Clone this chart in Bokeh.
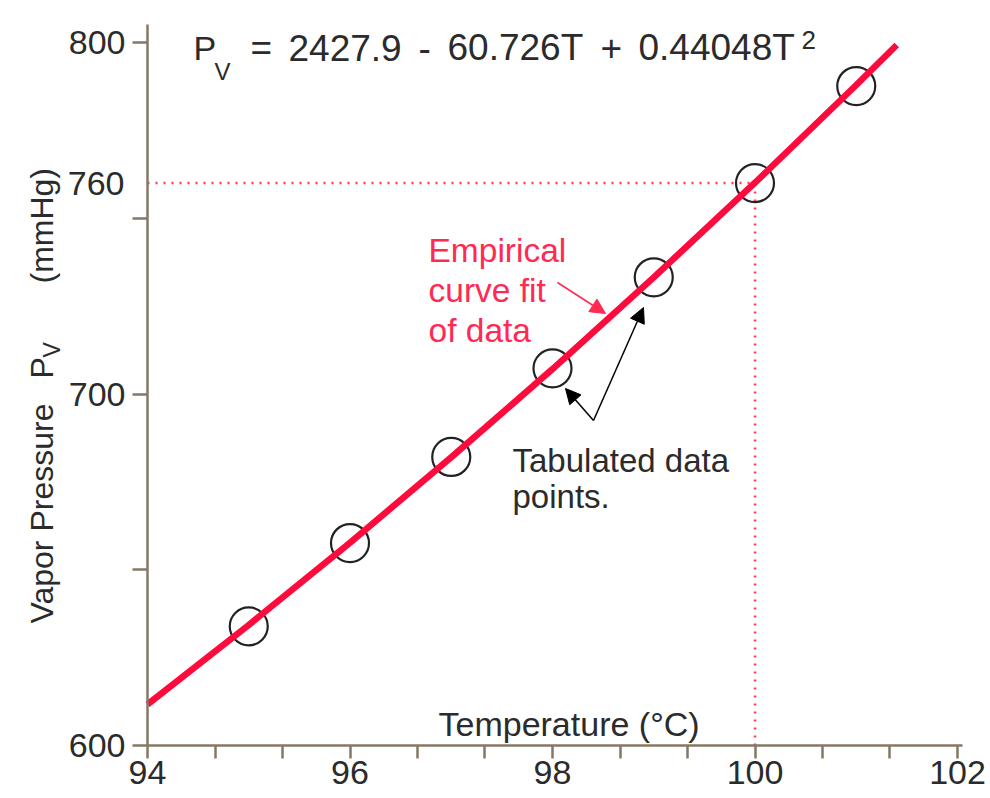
import math
from bokeh.plotting import figure
from bokeh.models import Label, Arrow, NormalHead, FixedTicker, Range1d
from bokeh.embed import file_html
from bokeh.resources import INLINE

# ---------------- data ----------------
temp_c = [95, 96, 97, 98, 99, 100, 101]
pressure_mmhg = [633.9, 657.6, 682.1, 707.3, 733.2, 760.0, 787.6]
fit_temp = [94, 95, 96, 97, 98, 99, 100, 101, 101.4]
fit_pressure = [611.7, 634.3, 657.7, 682.0, 707.1, 733.2, 760.1, 787.9, 799.3]
x_major_ticks = [94, 96, 98, 100, 102]
x_minor_ticks = [94.667, 95.333, 96.667, 97.333, 98.667, 99.333, 100.667, 101.333]
y_ticks = [600, 650, 700, 750, 800]
y_tick_labels = {600: "600", 650: "", 700: "700", 750: "", 800: "800"}
axis_x_start, axis_x_end = 94, 102.05
axis_y_start, axis_y_end = 600, 805
boiling_temp = 100
boiling_pressure = 760
equation_parts = ["=", "2427.9", "-", "60.726T", "+", "0.44048T"]

# ---------------- styles / layout ----------------
FONT = "Liberation Sans"
AXIS_C = "#857866"
TEXT_C = "#2b2b2b"
RED = "#ff0a3c"
RED_TXT = "#ff2a52"

W, H = 990, 798
AX_PX, AY_PX = 147, 745          # pixel of (94, 600)
SX, SY = 101.25, 3.515           # px per unit


def tx(px):
    return 94 + (px - AX_PX) / SX


def py(px):
    return 600 + (AY_PX - px) / SY


p = figure(width=W, height=H, x_range=Range1d(tx(0), tx(W)), y_range=Range1d(py(H), py(0)),
           output_backend="svg", toolbar_location=None, min_border=0)
p.grid.visible = False
p.outline_line_color = None
p.background_fill_color = "white"

for ax in (p.xaxis[0], p.yaxis[0]):
    ax.axis_line_color = AXIS_C
    ax.axis_line_width = 2.5
    ax.major_tick_line_color = AXIS_C
    ax.major_tick_line_width = 2.5
    ax.minor_tick_line_color = AXIS_C
    ax.minor_tick_line_width = 2.5
    ax.major_tick_in = 0
    ax.minor_tick_in = 0
    ax.major_label_text_font = FONT
    ax.major_label_text_font_size = "34px"
    ax.major_label_text_color = TEXT_C

p.xaxis.ticker = FixedTicker(ticks=x_major_ticks, minor_ticks=x_minor_ticks)
p.xaxis.major_tick_out = 13
p.xaxis.minor_tick_out = 13
p.xaxis.major_label_standoff = 2
p.xaxis.bounds = (axis_x_start, axis_x_end)
p.xaxis.fixed_location = axis_y_start

p.yaxis.ticker = FixedTicker(ticks=y_ticks)
p.yaxis.major_label_overrides = y_tick_labels
p.yaxis.major_tick_out = 15
p.yaxis.minor_tick_line_color = None
p.yaxis.major_label_standoff = 7
p.yaxis.bounds = (axis_y_start, axis_y_end)
p.yaxis.fixed_location = axis_x_start

# dotted guide lines at boiling point
p.line(x=[axis_x_start, boiling_temp], y=[boiling_pressure, boiling_pressure],
       line_color="#ff3a5e", line_width=2.5, line_dash="2 6")
p.line(x=[boiling_temp, boiling_temp], y=[axis_y_start, boiling_pressure],
       line_color="#ff3a5e", line_width=2.5, line_dash="2 6")

# tabulated points
p.scatter(temp_c, pressure_mmhg, size=38, marker="circle", fill_color=None,
          line_color="#222222", line_width=2.2)

# curve fit
p.line(fit_temp, fit_pressure, line_color=RED, line_width=6.5)


def lab(text, x, y, size="33px", color=TEXT_C, align="left", baseline="alphabetic",
        angle=0.0, x_offset=0):
    p.add_layout(Label(x=x, y=y, text=text, text_font=FONT, text_font_size=size,
                       text_color=color, text_align=align, text_baseline=baseline,
                       angle=angle, x_offset=x_offset))


# 760 label on y axis
lab("760", axis_x_start, boiling_pressure, size="34px", align="right", baseline="middle",
    x_offset=-23)

# equation
lab("P", tx(193), py(47), size="34px")
lab("V", tx(214), py(71), size="24px")
for part, xpx in zip(equation_parts, [250, 288, 418, 447, 600, 638]):
    lab(part, tx(xpx), py(47), size="37px")
lab("2", tx(801), py(39), size="26px")

# y axis title (rotated)
vert = math.pi / 2
lab("Vapor Pressure", tx(41), py(623), size="32px", baseline="middle", angle=vert)
lab("P", tx(41), py(378), size="32px", baseline="middle", angle=vert)
lab("V", tx(51), py(357), size="23px", baseline="middle", angle=vert)
lab("(mmHg)", tx(41), py(283), size="32px", baseline="middle", angle=vert)

# x axis title (inside plot)
lab("Temperature (°C)", tx(438), py(723), size="34px")

# annotations
lab("Empirical", tx(428), py(250), color=RED_TXT, size="33.5px")
lab("curve fit", tx(428), py(290), color=RED_TXT, size="33.5px")
lab("of data", tx(428), py(330), color=RED_TXT, size="33.5px")
lab("Tabulated data", tx(512), py(460))
lab("points.", tx(512), py(496))

p.add_layout(Arrow(end=NormalHead(size=15, fill_color=RED_TXT, line_color=RED_TXT),
                   x_start=tx(557), y_start=py(282), x_end=tx(605), y_end=py(313),
                   line_color=RED_TXT, line_width=1.5))
for (ex, ey) in [(565, 388), (643, 307)]:
    p.add_layout(Arrow(end=NormalHead(size=15, fill_color="black", line_color="black"),
                       x_start=tx(593), y_start=py(420), x_end=tx(ex), y_end=py(ey),
                       line_color="black", line_width=1.5))

open("out.html", "w").write(file_html(p, INLINE))
